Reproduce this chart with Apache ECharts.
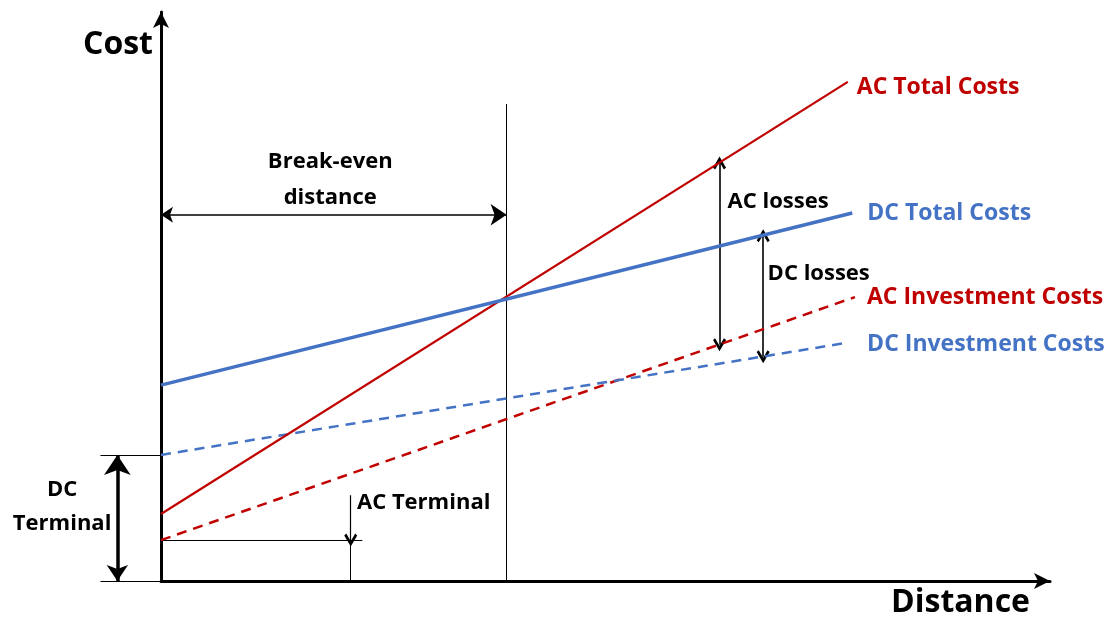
<!DOCTYPE html>
<html>
<head>
<meta charset="utf-8">
<script src="https://cdn.jsdelivr.net/npm/echarts@6/dist/echarts.min.js"></script>
<style>
    html, body { margin: 0; padding: 0; background: #fff; }
    #chart { width: 1116px; height: 621px; }
</style>
</head>
<body>
<div id="chart"></div>
<script>
// 成本-距离示意图 (AC vs DC)
const xName = 'Distance';
const yName = 'Cost';
const seriesNames = ['AC Total Costs', 'DC Total Costs', 'AC Investment Costs', 'DC Investment Costs'];

// [distance, cost] end points, chart units
const acTotal = [[0, 11.8], [77.1, 87.9]];
const dcTotal = [[0, 34.5], [77.6, 64.8]];
const acInvest = [[0, 7.2], [77.9, 50.0]];
const dcInvest = [[0, 22.2], [76.8, 41.9]];

// annotation values
const breakEven = 38.8;
const breakEvenTop = 84.0;
const breakEvenArrowY = 64.5;
const acLossArrow = [[62.7, 73.6], [62.7, 41.6]];
const dcLossArrow = [[67.6, 60.8], [67.6, 39.5]];
const acTerminal = 7.2;
const dcTerminal = 22.2;
const acTermArrow = [[21.3, 15.1], [21.3, 7.2]];
const acTermLineEnd = 22.6;
const dcTermArrowX = -4.9;
const dcTermLineStart = -6.8;

const noteTexts = ['Break-even\ndistance', 'AC losses', 'DC losses', 'AC Terminal', 'DC\nTerminal'];
const noteAt = [[19.0, 70.6], [63.6, 66.8], [68.1, 54.1], [22.0, 13.7], [-11.1, 13.0]];

const RED = '#C00000';
const BLUE = '#4472C4';
const FONT = '"Open Sans", "DejaVu Sans", sans-serif';
const chevron = 'path://M5,0 L10,8.6 L8.4,10 L5,4.2 L1.6,10 L0,8.6 Z';

const chart = echarts.init(document.getElementById('chart'));

function costLine(name, data, color, width, dash, dist, offY) {
    return {
        name: name,
        type: 'line',
        data: data,
        symbol: 'none',
        clip: false,
        silent: true,
        lineStyle: { color: color, width: width, type: dash || 'solid' },
        endLabel: {
            show: true,
            formatter: name,
            color: color,
            fontFamily: FONT,
            fontWeight: 'bold',
            fontSize: 23,
            distance: dist,
            offset: [0, offY]
        }
    };
}

function seg(coords, width, symbols, size) {
    return {
        type: 'lines',
        coordinateSystem: 'cartesian2d',
        clip: false,
        silent: true,
        symbol: symbols || ['none', 'none'],
        symbolSize: size || 10,
        lineStyle: { color: '#000', width: width, opacity: 1 },
        data: [{ coords: coords }]
    };
}

const axisStyle = {
    axisLine: {
        show: true,
        symbol: ['none', 'arrow'],
        symbolSize: [12, 16],
        lineStyle: { color: '#000', width: 3 }
    },
    axisTick: { show: false },
    axisLabel: { show: false },
    splitLine: { show: false }
};

const option = {
    animation: false,
    grid: { left: 161, right: 66, top: 12, bottom: 40 },
    xAxis: Object.assign({
        type: 'value',
        min: 0,
        max: 99.8,
        name: xName,
        nameLocation: 'end',
        nameGap: -20,
        nameTextStyle: {
            color: '#000', fontFamily: FONT, fontWeight: 'bold', fontSize: 32,
            align: 'right', verticalAlign: 'top', padding: [6, 0, 0, 0]
        }
    }, axisStyle),
    yAxis: Object.assign({
        type: 'value',
        min: 0,
        max: 100.2,
        name: yName,
        nameLocation: 'end',
        nameGap: -33,
        nameTextStyle: {
            color: '#000', fontFamily: FONT, fontWeight: 'bold', fontSize: 32,
            align: 'right', verticalAlign: 'middle', padding: [0, 8, 0, 0]
        }
    }, axisStyle),
    series: [
        // helper lines
        seg([[breakEven, 0], [breakEven, breakEvenTop]], 1),
        seg([[0, acTerminal], [acTermLineEnd, acTerminal]], 1),
        seg([acTermArrow[1], [acTermArrow[1][0], 0]], 1),
        seg([[dcTermLineStart, dcTerminal], [0, dcTerminal]], 1),
        seg([[dcTermLineStart, 0], [0, 0]], 1),
        // arrows
        seg([[0, breakEvenArrowY], [breakEven, breakEvenArrowY]], 1.5, ['arrow', 'arrow'], [12, 16]),
        seg(acLossArrow, 1.6, [chevron, chevron], [13, 13]),
        seg(dcLossArrow, 1.6, [chevron, chevron], [13, 13]),
        seg(acTermArrow, 1.2, ['none', chevron], [13, 13]),
        seg([[dcTermArrowX, 0], [dcTermArrowX, dcTerminal]], 3.5, ['arrow', 'arrow'], [16, 20]),
        // cost lines
        costLine(seriesNames[2], acInvest, RED, 2.5, [10, 7], 12, 0),
        costLine(seriesNames[3], dcInvest, BLUE, 2.5, [10, 7], 22, 1),
        costLine(seriesNames[0], acTotal, RED, 2.2, null, 9, 6),
        costLine(seriesNames[1], dcTotal, BLUE, 3.5, null, 15, 0),
        // text notes
        {
            type: 'scatter',
            clip: false,
            silent: true,
            symbolSize: 0,
            itemStyle: { opacity: 1 },
            data: noteTexts.map(function (t, i) {
                return {
                    value: noteAt[i],
                    label: {
                        show: true,
                        formatter: t,
                        position: [0, 0],
                        align: (i === 0 || i === 4) ? 'center' : 'left',
                        verticalAlign: 'middle',
                        lineHeight: i === 0 ? 36 : 34,
                        color: '#000',
                        opacity: 1,
                        textBorderWidth: 0,
                        fontFamily: FONT,
                        fontWeight: 'bold',
                        fontSize: 22
                    }
                };
            })
        }
    ]
};

chart.setOption(option);
</script>
</body>
</html>
